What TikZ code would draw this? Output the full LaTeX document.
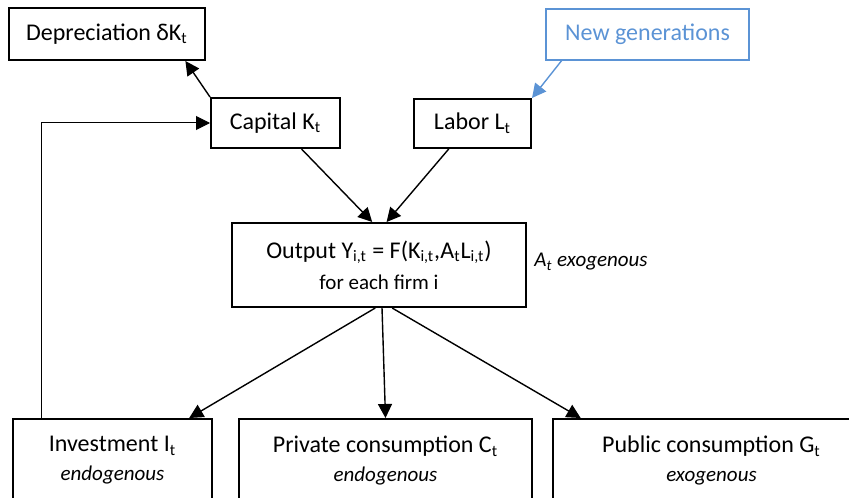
\documentclass[tikz,border=0pt]{standalone}
\usepackage{fontspec}
\setmainfont{Carlito}
\usetikzlibrary{arrows.meta}
\definecolor{genblue}{HTML}{5B93D5}
\tikzset{
  box/.style={draw,line width=1pt,inner sep=0pt,align=center,font=\fontsize{12}{14.5}\selectfont},
  arr/.style={-{Triangle[length=7pt,width=7pt]},line width=0.7pt},
  note/.style={font=\fontsize{10.5}{13}\selectfont\itshape}
}
\begin{document}
\begin{tikzpicture}[x=0.5pt,y=-0.5pt]
\useasboundingbox (0,0) rectangle (849,497);
\clip (0,0) rectangle (849,497);

\node[box,minimum width=98pt,minimum height=26pt] (dep) at (107,34) {Depreciation δK\textsubscript{t}};
\node[box,draw=genblue,text=genblue,line width=0.8pt,minimum width=101.5pt,minimum height=25.5pt] (gen) at (647.5,34.5) {New generations};
\node[box,minimum width=64.5pt,minimum height=25pt] (cap) at (275.5,123) {Capital K\textsubscript{t}};
\node[box,minimum width=58.5pt,minimum height=24.5pt] (lab) at (472.5,123.5) {Labor L\textsubscript{t}};

\node[box,minimum width=147pt,minimum height=42pt] (out) at (379,265)
  {Output Y\textsubscript{i,t} = F(K\textsubscript{i,t},A\textsubscript{t}L\textsubscript{i,t})\\[1pt]
   {\fontsize{10.5}{13}\selectfont for each firm i}};
\node[note] (exo) at (591,262) {A\textsubscript{t} exogenous};

\node[box,minimum width=99.5pt,minimum height=41.5pt] (inv) at (112.5,460.5)
  {Investment I\textsubscript{t}\\{\fontsize{10.5}{13}\selectfont\itshape endogenous}};
\node[box,minimum width=146.5pt,minimum height=41.5pt] (priv) at (385.5,460.5)
  {Private consumption C\textsubscript{t}\\{\fontsize{10.5}{13}\selectfont\itshape endogenous}};
\node[box,minimum width=158.5pt,minimum height=41.5pt] (pub) at (711.5,460.5)
  {Public consumption G\textsubscript{t}\\{\fontsize{10.5}{13}\selectfont\itshape exogenous}};

\draw[arr] (cap.north west) -- (dep.-19);
\draw[arr,genblue] (gen.197) -- (lab.north east);
\draw[arr] (cap.-45) -- (out.99);
\draw[arr] (lab.227) -- (out.80);

\draw[arr] (out.265) -- (inv.29);
\draw[arr] (out.274) -- (priv.north);
\draw[arr] (out.287) -- (pub.162);

\draw[arr,line width=0.5pt] (inv.149) |- (cap.west);
\end{tikzpicture}
\end{document}
